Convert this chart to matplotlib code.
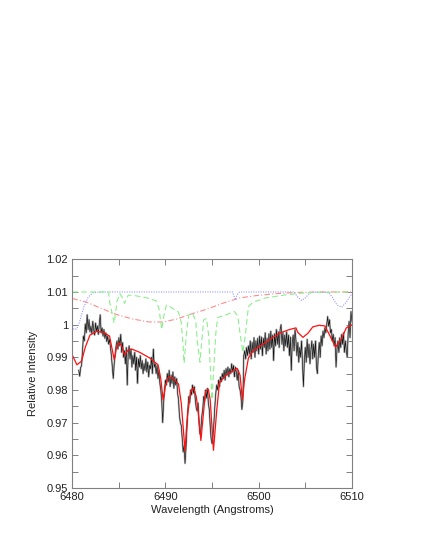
import numpy as np
import matplotlib
matplotlib.use("Agg")
import matplotlib.pyplot as plt
from matplotlib.ticker import MultipleLocator

plt.rcParams['font.family'] = ['Liberation Sans', 'DejaVu Sans']

# Observed spectrum: regular wavelength grid (start, step) and read-off intensities
obs_start = 6480.7
obs_step = 0.1
obs_flux = [
    0.9860, 0.9842, 0.9868,
    0.9875, 0.9920, 0.9965, 0.9950, 1.0002, 0.9975, 1.0030, 0.9985, 1.0015, 0.9978,
    0.9995, 0.9972, 1.0010, 0.9985, 0.9968, 1.0005, 0.9980, 0.9996, 0.9970, 1.0002,
    1.0030, 0.9975, 0.9990, 0.9965, 0.9985, 0.9958, 0.9975, 0.9948, 0.9965, 0.9940,
    0.9955, 0.9930, 0.9905, 0.9870, 0.9835, 0.9880, 0.9905, 0.9935, 0.9950, 0.9925,
    0.9960, 0.9935, 0.9970, 0.9915, 0.9945, 0.9900, 0.9920, 0.9880, 0.9930, 0.9815,
    0.9910, 0.9935, 0.9895, 0.9925, 0.9870, 0.9905, 0.9880, 0.9915, 0.9860, 0.9900,
    0.9820, 0.9895, 0.9870, 0.9905, 0.9865, 0.9890, 0.9850, 0.9880, 0.9860, 0.9895,
    0.9855, 0.9885, 0.9840, 0.9875, 0.9865, 0.9900, 0.9850, 0.9925, 0.9870, 0.9880,
    0.9850, 0.9875, 0.9835, 0.9860, 0.9820, 0.9800, 0.9765, 0.9700, 0.9760, 0.9800,
    0.9830, 0.9815, 0.9850, 0.9825, 0.9860, 0.9810, 0.9845, 0.9820, 0.9855, 0.9805,
    0.9840, 0.9815, 0.9835, 0.9790, 0.9770, 0.9720, 0.9700, 0.9690, 0.9650, 0.9610,
    0.9630, 0.9575, 0.9620, 0.9680, 0.9740, 0.9780, 0.9760, 0.9800, 0.9785, 0.9815,
    0.9790, 0.9810, 0.9770, 0.9745, 0.9735, 0.9760, 0.9700, 0.9665, 0.9680, 0.9720,
    0.9740, 0.9780, 0.9765, 0.9800, 0.9775, 0.9805, 0.9760, 0.9740, 0.9690, 0.9650,
    0.9635, 0.9660, 0.9700, 0.9750, 0.9790, 0.9815, 0.9800, 0.9830, 0.9810, 0.9840,
    0.9825, 0.9850, 0.9835, 0.9860, 0.9830, 0.9865, 0.9845, 0.9870, 0.9840, 0.9865,
    0.9850, 0.9880, 0.9855, 0.9875, 0.9840, 0.9870, 0.9855, 0.9830, 0.9860, 0.9810,
    0.9800, 0.9780, 0.9740, 0.9765, 0.9905, 0.9920, 0.9895, 0.9930, 0.9905, 0.9935,
    0.9910, 0.9950, 0.9895, 0.9945, 0.9915, 0.9960, 0.9900, 0.9950, 0.9920, 0.9958,
    0.9910, 0.9965, 0.9925, 0.9962, 0.9905, 0.9958, 0.9930, 0.9975, 0.9910, 0.9958,
    0.9920, 0.9972, 0.9925, 0.9980, 0.9930, 0.9968, 0.9890, 0.9972, 0.9935, 0.9985,
    0.9940, 0.9978, 0.9930, 0.9985, 1.0000, 0.9940, 0.9975, 0.9920, 0.9968, 0.9935,
    0.9978, 0.9930, 0.9968, 0.9905, 0.9962, 0.9860, 0.9945, 0.9968, 0.9920, 0.9985,
    0.9950, 0.9905, 0.9945, 0.9885, 0.9930, 0.9900, 0.9950, 0.9880, 0.9810, 0.9890,
    0.9930, 0.9885, 0.9955, 0.9900, 0.9940, 0.9880, 0.9920, 0.9950, 0.9895, 0.9940,
    0.9900, 0.9950, 0.9870, 0.9850, 0.9910, 0.9945, 0.9900, 0.9965, 0.9935, 0.9980,
    0.9960, 0.9990, 0.9975, 1.0000, 1.0025, 0.9995, 1.0015, 0.9975, 0.9985, 0.9950,
    0.9970, 0.9935, 0.9960, 0.9870, 0.9925, 0.9950, 0.9915, 0.9960, 0.9930, 0.9970,
    0.9940, 0.9975, 0.9915, 0.9950, 0.9920, 0.9900, 0.9975, 1.0010, 0.9960, 1.0040,
    1.0010,
]

# Model fit (red)
model_wl = [6480.0, 6480.5, 6481.0, 6481.4, 6481.9, 6482.6, 6483.3, 6484.0, 6484.2, 6484.5,
            6484.75, 6485.0, 6485.3, 6485.6, 6486.0, 6486.4, 6487.25, 6488.3, 6489.2, 6489.5,
            6489.75, 6490.0, 6490.3, 6490.8, 6491.4, 6491.7, 6492.1, 6492.3, 6492.7, 6493.0,
            6493.3, 6493.5, 6493.8, 6494.0, 6494.3, 6494.6, 6494.8, 6495.15, 6495.5, 6495.8,
            6496.5, 6497.25, 6497.7, 6498.0, 6498.25, 6498.5, 6498.9, 6499.4, 6500.8, 6502.25,
            6503.3, 6504.0, 6504.2, 6504.75, 6505.3, 6505.8, 6506.5, 6507.1, 6507.6, 6508.25,
            6508.9, 6509.4, 6510.0]
model_flux = [0.9907, 0.9877, 0.9888, 0.9931, 0.9968, 0.9979, 0.9977, 0.9965, 0.9936, 0.9893,
              0.9930, 0.9944, 0.9936, 0.9907, 0.9922, 0.9925, 0.9915, 0.9898, 0.9877, 0.9834,
              0.9769, 0.9812, 0.9839, 0.9836, 0.9818, 0.9758, 0.9613, 0.9705, 0.9796, 0.9807,
              0.9780, 0.9737, 0.9645, 0.9705, 0.9796, 0.9802, 0.9770, 0.9615, 0.9737, 0.9823,
              0.9845, 0.9859, 0.9866, 0.9845, 0.9769, 0.9834, 0.9898, 0.9920, 0.9947, 0.9974,
              0.9985, 0.9990, 0.9976, 0.9961, 0.9974, 0.9993, 0.9998, 0.9996, 0.9968, 0.9931,
              0.9958, 0.9990, 0.9999]

# Telluric component (green dashed)
tell_wl = [6480.0, 6483.9, 6484.0, 6484.5, 6484.8, 6485.1, 6485.4, 6485.6, 6486.0, 6486.5,
           6488.0, 6489.0, 6489.3, 6489.6, 6489.85, 6490.1, 6490.6, 6491.4, 6491.7, 6491.9,
           6492.0, 6492.25, 6492.5, 6492.9, 6493.25, 6493.4, 6493.7, 6493.9, 6494.1, 6494.4,
           6494.65, 6494.8, 6495.0, 6495.2, 6495.4, 6495.6, 6496.5, 6497.4, 6497.75, 6498.0,
           6498.3, 6498.55, 6498.9, 6499.4, 6500.8, 6502.6, 6504.4, 6506.2, 6510.0]
tell_flux = [1.0100, 1.0100, 1.0071, 1.0005, 1.0071, 1.0095, 1.0082, 1.0065, 1.0090, 1.0090,
             1.0082, 1.0073, 1.0050, 0.9985, 1.0030, 1.0060, 1.0053, 1.0038, 1.0006, 0.9930,
             0.9882, 0.9973, 1.0030, 1.0035, 1.0011, 0.9952, 0.9885, 0.9952, 1.0015, 1.0019,
             0.9963, 0.9876, 0.9770, 0.9876, 0.9973, 1.0022, 1.0030, 1.0040, 1.0027, 0.9973,
             0.9915, 0.9963, 1.0055, 1.0069, 1.0082, 1.0090, 1.0096, 1.0099, 1.0100]

# Blue dotted component
blue_wl = [6480.0, 6480.2, 6480.5, 6480.8, 6481.25, 6481.7, 6482.25, 6483.0, 6497.2, 6497.35,
           6497.5, 6497.7, 6497.95, 6503.8, 6504.2, 6504.6, 6505.0, 6505.5, 6505.9, 6507.5,
           6507.9, 6508.4, 6508.9, 6509.4, 6510.0]
blue_flux = [0.9995, 0.9985, 0.9987, 1.0010, 1.0055, 1.0084, 1.0098, 1.0100, 1.0100, 1.0087,
             1.0076, 1.0092, 1.0100, 1.0100, 1.0084, 1.0074, 1.0082, 1.0097, 1.0100, 1.0098,
             1.0084, 1.0060, 1.0053, 1.0069, 1.0095]

# Broad component (pink dash-dot)
broad_wl = [6480.0, 6481.5, 6483.0, 6484.75, 6486.5, 6488.3, 6489.75, 6491.2, 6492.6, 6494.4,
            6496.2, 6498.0, 6499.75, 6501.9, 6504.4, 6507.0, 6510.0]
broad_flux = [1.0080, 1.0069, 1.0051, 1.0031, 1.0017, 1.0008, 1.0008, 1.0017, 1.0031, 1.0047,
              1.0066, 1.0082, 1.0089, 1.0095, 1.0099, 1.0100, 1.0100]

x_ticks = [6480, 6490, 6500, 6510]
y_ticks = [0.95, 0.96, 0.97, 0.98, 0.99, 1.00, 1.01, 1.02]
y_labels = ['0.95', '0.96', '0.97', '0.98', '0.99', '1', '1.01', '1.02']

obs_wl = obs_start + obs_step * np.arange(len(obs_flux))

fig = plt.figure(figsize=(4.25, 5.5), dpi=100)
ax = fig.add_axes([0.170, 0.1130, 0.658, 0.4155])

ax.plot(broad_wl, broad_flux, color='#ff8c8c', lw=0.8, dashes=(5, 2, 1, 2))
ax.plot(blue_wl, blue_flux, color='#9a9aff', lw=0.8, dashes=(1, 1.2))
ax.plot(tell_wl, tell_flux, color='#8cee8c', lw=0.8, dashes=(5, 3))
ax.plot(obs_wl, obs_flux, color='#b4b4b4', lw=1.4, solid_joinstyle='round')
ax.plot(obs_wl, obs_flux, color='#111111', lw=0.45)
ax.plot(model_wl, model_flux, color='#ff1010', lw=0.9)

ax.set_xlim(6480, 6510)
ax.set_ylim(0.95, 1.02)
ax.set_xticks(x_ticks)
ax.set_xticklabels([str(t) for t in x_ticks])
ax.set_yticks(y_ticks)
ax.set_yticklabels(y_labels)
ax.xaxis.set_minor_locator(MultipleLocator(5))
ax.yaxis.set_minor_locator(MultipleLocator(0.005))

for sp in ax.spines.values():
    sp.set_color('#808080')
    sp.set_linewidth(0.8)
ax.tick_params(which='both', direction='in', top=True, right=True, color='#808080',
               width=0.7, labelsize=8, labelcolor='#222222', pad=3)
ax.tick_params(which='major', length=4)
ax.tick_params(which='minor', length=4)

ax.set_xlabel('Wavelength (Angstroms)', fontsize=8, color='#222222', labelpad=2)
ax.set_ylabel('Relative Intensity', fontsize=8, color='#222222', labelpad=6)

fig.savefig('out.png', dpi=100)
